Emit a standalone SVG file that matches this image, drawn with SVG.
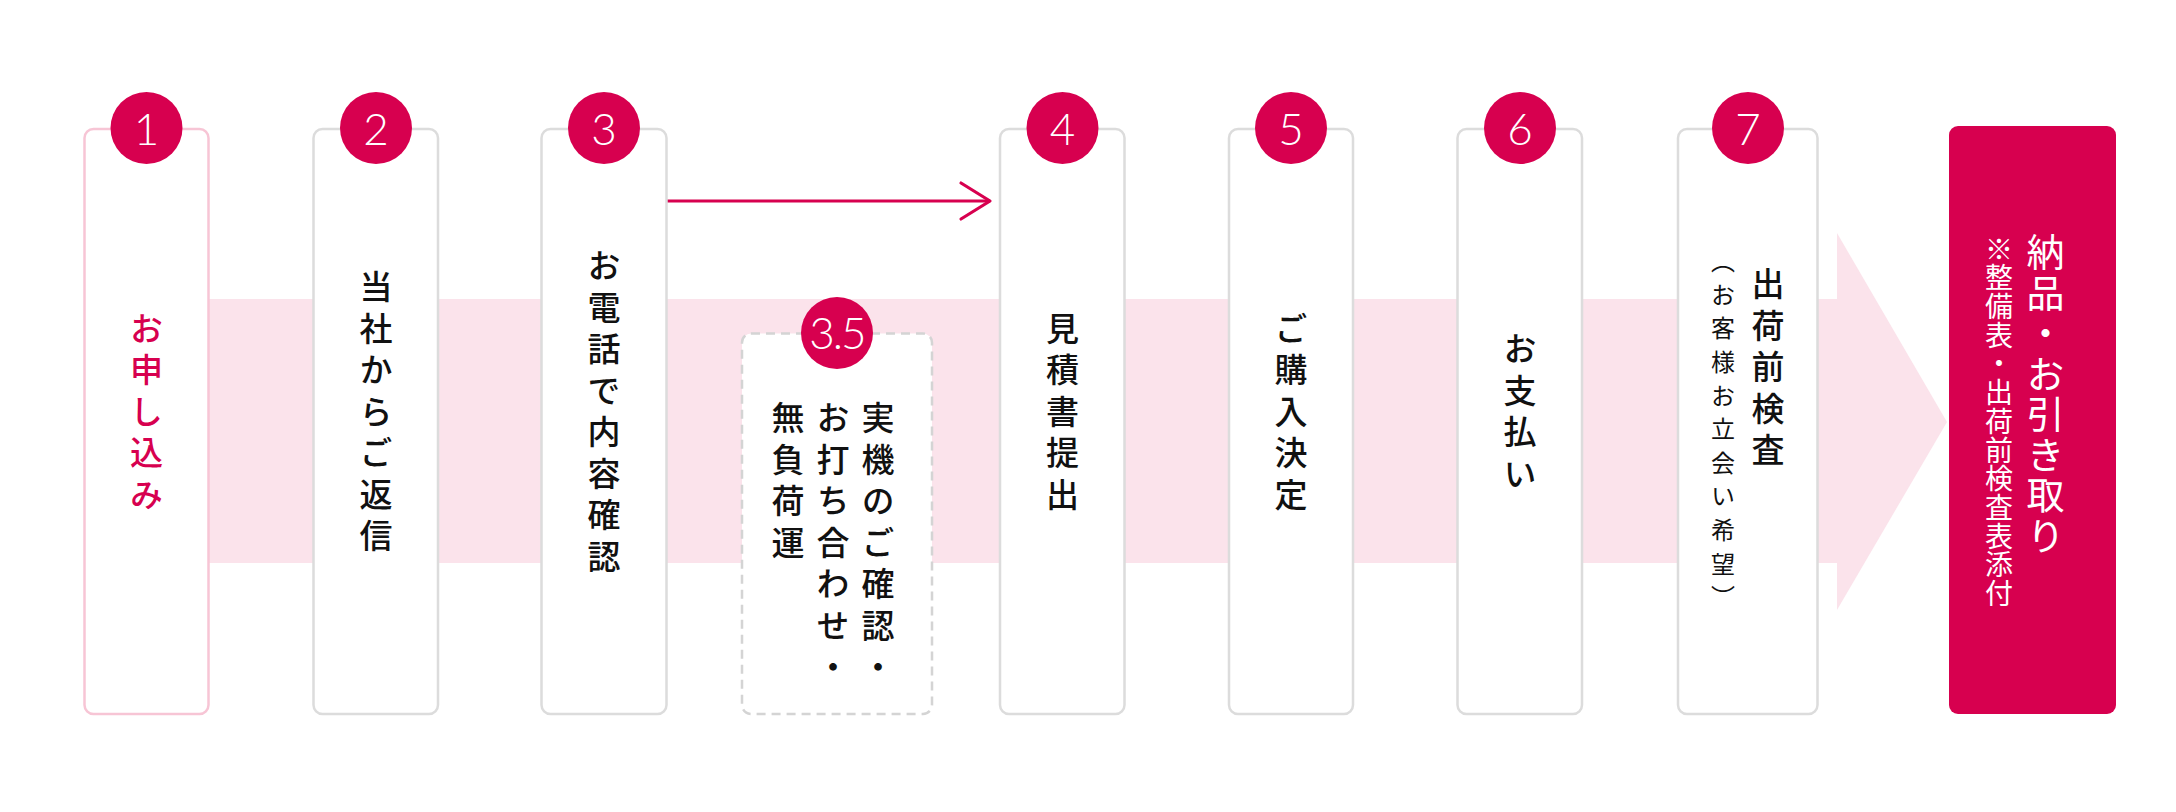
<svg xmlns="http://www.w3.org/2000/svg" width="2176" height="812" viewBox="0 0 2176 812">
<style>
.box{fill:#fff;stroke:#dcdcdc;stroke-width:2.5}
.box1{fill:#fff;stroke:#f7c5d5;stroke-width:2.5}
.dash{fill:#fff;stroke:#d4d4d4;stroke-width:2.5;stroke-dasharray:9 6}
.badge{fill:#d7004f}
.num{font-family:Lato,"Noto Sans",sans-serif;font-size:44px;font-weight:300;fill:#fff;text-anchor:middle}
.v{font-family:"Noto Sans CJK JP","Noto Sans",sans-serif;writing-mode:vertical-rl;font-size:33px;letter-spacing:8.5px;fill:#111;font-weight:500}
.pink{fill:#d7004f}
.band{fill:#fbe3eb}
.conn{fill:none;stroke:#d7004f;stroke-width:3.2;stroke-linecap:round;stroke-linejoin:round}
</style>
<g id="band">
<rect class="band" x="150" y="299" width="1688" height="264"/>
<polygon class="band" points="1837,233 1947,422 1837,610"/>
</g>
<g id="connectors">
<line class="conn" x1="667" y1="201" x2="989" y2="201"/>
<polyline class="conn" points="961,183 990,201 961,219"/>
</g>
<g id="step1">
<rect class="box1" x="84.5" y="129" width="124" height="585" rx="9"/>
<circle class="badge" cx="146.5" cy="128" r="36"/>
<text class="num" x="146.5" y="145">1</text>
<text class="v pink" x="146.5" y="311.5">お申し込み</text>
</g>
<g id="step2">
<rect class="box" x="313.5" y="129" width="124.5" height="585" rx="9"/>
<circle class="badge" cx="376" cy="128" r="36"/>
<text class="num" x="376" y="145">2</text>
<text class="v" x="376" y="270">当社からご返信</text>
</g>
<g id="step3">
<rect class="box" x="541.5" y="129" width="125" height="585" rx="9"/>
<circle class="badge" cx="604" cy="128" r="36"/>
<text class="num" x="604" y="145">3</text>
<text class="v" x="604" y="249">お電話で内容確認</text>
</g>
<g id="step3-5">
<rect class="dash" x="742" y="333.5" width="190" height="380.5" rx="9"/>
<circle class="badge" cx="837" cy="333" r="36"/>
<text class="num" x="837" y="349" letter-spacing="-2">3.5</text>
<text class="v" x="878" y="401">実機のご確認・</text>
<text class="v" x="833" y="401">お打ち合わせ・</text>
<text class="v" x="788" y="401">無負荷運</text>
</g>
<g id="step4">
<rect class="box" x="1000" y="129" width="124.5" height="585" rx="9"/>
<circle class="badge" cx="1062.5" cy="128" r="36"/>
<text class="num" x="1062.5" y="145">4</text>
<text class="v" x="1062.5" y="311.5">見積書提出</text>
</g>
<g id="step5">
<rect class="box" x="1229" y="129" width="124" height="585" rx="9"/>
<circle class="badge" cx="1291" cy="128" r="36"/>
<text class="num" x="1291" y="145">5</text>
<text class="v" x="1291" y="311.5">ご購入決定</text>
</g>
<g id="step6">
<rect class="box" x="1457.5" y="129" width="124.5" height="585" rx="9"/>
<circle class="badge" cx="1520" cy="128" r="36"/>
<text class="num" x="1520" y="145">6</text>
<text class="v" x="1520" y="332">お支払い</text>
</g>
<g id="step7">
<rect class="box" x="1678" y="129" width="139.5" height="585" rx="9"/>
<circle class="badge" cx="1748" cy="128" r="36"/>
<text class="num" x="1748" y="145">7</text>
<text class="v" x="1768" y="267">出荷前検査</text>
<text class="v" x="1723" y="249" style="font-size:24px;letter-spacing:9.6px;font-weight:400">（お客様お立会い希望）</text>
</g>
<g id="delivery">
<rect x="1949" y="126" width="167" height="588" rx="9" fill="#d7004f"/>
<text class="v" x="2045.5" y="233" style="font-size:38px;letter-spacing:2.5px;fill:#fff;font-weight:400">納品・お引き取り</text>
<text class="v" x="1999" y="235" style="font-size:28px;letter-spacing:0.7px;fill:#fff;font-weight:400">※整備表・出荷前検査表添付</text>
</g>
</svg>
